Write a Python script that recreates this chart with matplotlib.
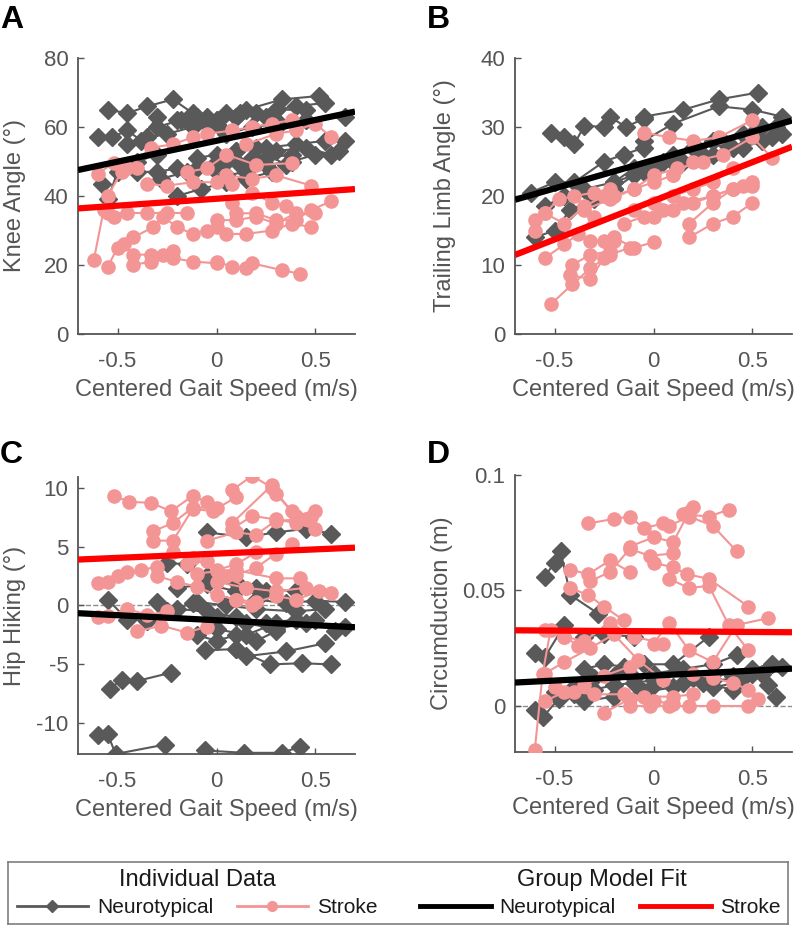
import numpy as np
import matplotlib.pyplot as plt
from matplotlib.lines import Line2D
from matplotlib.ticker import FormatStrFormatter

plt.rcParams['font.family'] = ['Liberation Sans', 'DejaVu Sans']
plt.rcParams['axes.unicode_minus'] = False

GRAY = '#595959'
PINK = '#F49595'
TXT = '#555555'

# ---- Panel A: knee angle ----
knee_nt_x = [[-0.55, -0.45, -0.35, -0.22, -0.12], [-0.6, -0.53, -0.45, -0.38, -0.3],
             [-0.05, 0.05, 0.15, 0.33, 0.52], [0.0, 0.1, 0.2, 0.3, 0.4, 0.55],
             [-0.2, -0.1, 0.0, 0.12, 0.25], [-0.3, -0.18, -0.05, 0.1, 0.3, 0.45],
             [0.05, 0.18, 0.32, 0.45, 0.65], [-0.58, -0.55, -0.5, -0.4, -0.3],
             [-0.4, -0.3, -0.2, -0.1, 0.0], [-0.28, -0.15, -0.02, 0.12, 0.25, 0.38],
             [-0.2, -0.08, 0.05, 0.15, 0.28], [0.05, 0.18, 0.3, 0.45, 0.58],
             [0.1, 0.25, 0.4, 0.55, 0.65], [-0.45, -0.35, -0.25, -0.12, 0.0],
             [-0.1, 0.0, 0.1, 0.2, 0.35], [0.05, 0.15, 0.25, 0.38, 0.5, 0.62]]
knee_nt_y = [[65, 64, 66, 68, 64], [57, 57, 59, 56, 63],
             [63, 64, 65, 68, 69], [62, 63, 64, 65, 66, 67],
             [62, 63, 61, 64, 63], [60, 62, 61, 63, 65, 65],
             [58, 60, 61, 62, 63], [43.5, 39, 47, 50, 52],
             [47, 47, 48, 48, 50], [45, 47, 48, 49, 51, 52],
             [40, 42, 44, 45, 47], [50, 51, 53, 54, 52],
             [53, 54, 55, 56, 56], [55, 57, 58, 60, 62],
             [51, 52, 53, 54, 49], [46, 47, 49, 50, 52, 53]]
knee_st_x = [[-0.42, -0.33, -0.22, -0.12, 0.0], [0.0, 0.08, 0.15, 0.18, 0.33, 0.42],
             [-0.55, -0.5, -0.47, -0.42, -0.33, -0.27, -0.22], [-0.62, -0.57, -0.52],
             [-0.42, -0.32, -0.27, -0.2, -0.12, -0.05, 0.0], [-0.55, -0.45, -0.35, -0.25, -0.15],
             [0.0, 0.1, 0.2, 0.3, 0.4, 0.5], [0.1, 0.2, 0.3, 0.4, 0.48, 0.58],
             [0.05, 0.15, 0.28, 0.38, 0.48], [-0.6, -0.52, -0.45, -0.33, -0.22, -0.12],
             [-0.05, 0.08, 0.18, 0.28, 0.38], [0.15, 0.3, 0.4, 0.5, 0.58],
             [-0.35, -0.25, -0.12, 0.0, 0.08], [-0.15, -0.05, 0.05, 0.2, 0.38],
             [0.05, 0.18, 0.3, 0.48], [0.08, 0.18, 0.28, 0.35], [-0.55, -0.48, -0.4]]
knee_st_y = [[20, 21, 22, 21, 20.5], [21, 19.5, 19, 20.5, 18.5, 17.5],
             [19.5, 25, 26, 23, 23, 23, 24], [21.5, 36, 34],
             [28, 31, 34, 31, 29, 30, 31], [35, 35, 35, 35, 35],
             [33, 33, 34, 32, 35, 35], [35, 35, 33, 33, 36, 38.5],
             [29, 29, 30, 32, 31], [46.5, 49.5, 48, 54, 55, 57],
             [58, 59, 60, 61, 62], [55, 58, 59, 61, 57],
             [43.5, 43, 44, 44, 43.5], [47, 48, 52, 49, 49.5],
             [46, 45, 46, 43], [38, 41, 38, 37], [40, 47, 48]]
knee_fit_nt = [56.0, 12.1]   # intercept, slope
knee_fit_st = [39.2, 4.0]

# ---- Panel B: trailing limb angle ----
tla_nt_x = [[-0.52, -0.45, -0.4, -0.35, -0.25, -0.22, -0.14, -0.05],
            [-0.05, 0.15, 0.33, 0.53], [-0.05, 0.1, 0.33, 0.5, 0.65],
            [-0.62, -0.5, -0.4, -0.25, -0.15, -0.05], [-0.55, -0.45, -0.35, -0.2, -0.1, 0.05],
            [-0.6, -0.5, -0.42, -0.3, -0.2], [0.0, 0.15, 0.3, 0.45, 0.6],
            [0.1, 0.22, 0.35, 0.5, 0.62], [-0.2, -0.05, 0.1, 0.25, 0.4, 0.55],
            [0.2, 0.3, 0.45, 0.55, 0.65], [-0.3, -0.2, -0.1, 0.0, 0.1]]
tla_nt_y = [[29.2, 28.5, 27.5, 30.2, 30, 31.5, 30, 31.2],
            [31.5, 32.5, 34, 35], [28, 30.5, 33, 32.5, 31.5],
            [20.5, 22, 22, 25, 26, 27], [18.5, 20, 21, 22, 24, 25],
            [14, 15, 18, 19.5, 21], [24, 25, 26, 27, 28.5],
            [26, 27, 28, 29, 30], [22, 23.5, 25, 26, 27, 28],
            [27, 28, 29, 30, 29], [20, 21, 23, 24, 25]]
tla_st_x = [[-0.52, -0.41, -0.32, -0.22, -0.12], [-0.41, -0.32, -0.22],
            [-0.42, -0.32, -0.25, -0.2], [-0.32, -0.25, -0.2, -0.1, 0.0],
            [-0.55, -0.45, -0.38, -0.3], [-0.6, -0.55, -0.48, -0.4, -0.3, -0.22],
            [-0.6, -0.55, -0.45, -0.35, -0.25], [0.18, 0.3, 0.4, 0.5],
            [0.18, 0.3, 0.4, 0.5], [0.0, 0.1, 0.2, 0.3, 0.4, 0.5],
            [-0.15, -0.05, 0.05, 0.15, 0.3, 0.45], [-0.05, 0.08, 0.2, 0.33, 0.5],
            [0.1, 0.2, 0.35, 0.5, 0.6], [-0.2, -0.1, 0.0, 0.12, 0.25],
            [-0.35, -0.22, -0.1, 0.0, 0.1], [-0.1, 0.0, 0.1, 0.2, 0.3, 0.4]]
tla_st_y = [[4.3, 7.2, 9.5, 11.5, 12.5], [10, 11.5, 12],
            [8.5, 8, 11, 13.5], [13.5, 13.5, 14, 12.5, 13.3],
            [11, 13, 14.5, 17], [16.5, 17.5, 19.5, 20, 20.5, 21],
            [15, 17.5, 16, 18.5, 20], [14, 16, 17, 19],
            [16, 19, 21, 22], [17, 18, 19, 20, 21, 21.5],
            [16, 17, 18, 19, 20, 21.5], [29.2, 28.5, 28, 28.5, 31],
            [23, 25, 26, 28.5, 25.5], [20, 21, 23, 24, 25],
            [18, 19.5, 21, 22, 23], [18, 19, 20, 21, 22, 24]]
tla_fit_nt = [25.2, 8.2]
tla_fit_st = [19.3, 11.2]

# ---- Panel C: hip hiking ----
hip_nt_x = [[-0.6, -0.55, -0.51, -0.26], [-0.06, 0.14, 0.33, 0.42],
            [-0.54, -0.48, -0.4, -0.23], [-0.06, 0.1, 0.27, 0.43, 0.58],
            [0.1, 0.15, 0.35, 0.55], [-0.55, -0.45, -0.35, -0.25, -0.12],
            [-0.3, -0.2, -0.05, 0.1, 0.25, 0.4], [0.0, 0.15, 0.3, 0.45, 0.65],
            [-0.1, 0.05, 0.2, 0.4, 0.55], [0.2, 0.35, 0.5, 0.65],
            [-0.05, 0.15, 0.3, 0.45, 0.58], [-0.25, -0.15, -0.05, 0.1, 0.25],
            [-0.2, -0.05, 0.1, 0.2, 0.4], [-0.1, 0.0, 0.1, 0.2, 0.3],
            [0.0, 0.15, 0.3, 0.5, 0.6]]
hip_nt_y = [[-11, -10.9, -12.6, -11.8], [-12.3, -12.5, -12.5, -12],
            [-7.1, -6.3, -6.4, -5.7], [-3.8, -3.7, -5, -4.9, -5],
            [-3.7, -4.3, -3.9, -3.2], [0.5, -1.2, -1.3, -0.5, 0.2],
            [0.3, -0.3, -0.5, -1, -1.5, -1.2], [-1, -1.5, -2, -1.5, -1.8],
            [0.3, 0.0, -0.3, -0.5, -0.3], [0.5, 0.2, 0.4, 0.3],
            [6.2, 5.8, 6.2, 6.5, 6.1], [3.6, 3.5, 2.5, 2, 1.2],
            [1.5, 1.8, 1.2, 1.5, 1.2], [-2.5, -3, -2.5, -3, -2.2],
            [-2, -2.5, -1.5, -1.2, -2.2]]
hip_st_x = [[-0.52, -0.44, -0.33, -0.23, -0.12, -0.05], [-0.32, -0.22, -0.12, 0.0],
            [-0.32, -0.22, -0.12, -0.02, 0.1], [0.08, 0.18, 0.28, 0.38, 0.48],
            [0.08, 0.28, 0.3, 0.4, 0.5], [0.08, 0.18, 0.3, 0.4, 0.5],
            [-0.05, 0.1, 0.2, 0.3, 0.45], [-0.6, -0.55, -0.5, -0.45, -0.38, -0.3],
            [-0.22, -0.12, 0.0, 0.1, 0.2], [0.1, 0.2, 0.3, 0.38],
            [-0.1, 0.0, 0.1, 0.3, 0.42], [0.0, 0.15, 0.3, 0.45, 0.58],
            [-0.3, -0.2, -0.1, 0.0, 0.1, 0.18], [-0.6, -0.55, -0.45, -0.35, -0.25],
            [-0.4, -0.28, -0.15, -0.05], [0.1, 0.2, 0.3, 0.4, 0.52],
            [-0.15, -0.05, 0.05, 0.15]]
hip_st_y = [[9.3, 8.8, 8.7, 8, 9.3, 8.8], [6.3, 7, 8.3, 8.3],
            [5.5, 5.5, 8.2, 8, 9.2], [9.8, 11, 10, 8, 7.5],
            [7, 10.2, 9.5, 7.6, 8], [6.5, 7.6, 7.3, 7.0, 6.5],
            [5.5, 6.2, 6.0, 7.2, 7.3], [1.9, 2, 2.5, 2.8, 3, 3.3],
            [4.5, 4, 3, 3.5, 4.5], [2.6, 3.2, 4.4, 5.2],
            [2.7, 2.9, 3, 2.3, 2.3], [2, 1.5, 1.2, 1.5, 1.1],
            [2.5, 2, 1.6, 0.9, 0.5, 0], [-1, -0.9, -0.3, -0.8, -0.5],
            [-2.2, -1.7, -2.3, -1.8], [0.5, 0.3, 0.8, 0.5, 1.2],
            [3.5, 3.8, 2.5, 1.5]]
hip_fit_nt = [-1.25, -0.85]
hip_fit_st = [4.4, 0.72]

# ---- Panel D: circumduction ----
circ_nt_x = [[-0.55, -0.5, -0.47, -0.42, -0.28], [-0.6, -0.55, -0.45, -0.35, -0.25, -0.1],
             [-0.6, -0.56, -0.48, -0.4], [-0.35, -0.25, -0.15, -0.05, 0.1, 0.28],
             [-0.3, -0.2, -0.1, 0.0, 0.15, 0.3, 0.42], [0.2, 0.3, 0.4, 0.5, 0.6, 0.65],
             [0.3, 0.42, 0.5, 0.58, 0.62], [-0.5, -0.4, -0.3, -0.2, -0.1, 0.0],
             [-0.35, -0.2, -0.05, 0.1, 0.25, 0.4], [0.0, 0.15, 0.3, 0.45, 0.55]]
circ_nt_y = [[0.056, 0.062, 0.067, 0.048, 0.040], [0.023, 0.021, 0.035, 0.030, 0.031, 0.030],
             [-0.002, -0.005, 0.003, 0.005], [0.016, 0.018, 0.017, 0.018, 0.018, 0.030],
             [0.012, 0.013, 0.012, 0.014, 0.016, 0.018, 0.022], [0.012, 0.014, 0.013, 0.016, 0.018, 0.017],
             [0.008, 0.010, 0.014, 0.009, 0.004], [0.006, 0.008, 0.007, 0.009, 0.010, 0.011],
             [0.002, 0.004, 0.006, 0.008, 0.010, 0.007], [0.009, 0.010, 0.011, 0.012, 0.014]]
circ_st_x = [[-0.6, -0.56, -0.52, -0.45, -0.38], [-0.33, -0.2, -0.12, -0.05, 0.05],
             [-0.12, 0.0, 0.1, 0.18, 0.2], [0.15, 0.28, 0.38],
             [0.08, 0.18, 0.3, 0.42], [-0.42, -0.33, -0.22, -0.12],
             [-0.32, -0.22, -0.12, -0.02, 0.1], [0.0, 0.1, 0.17, 0.28, 0.48],
             [-0.42, -0.33, -0.25, -0.15], [0.08, 0.18, 0.28, 0.38, 0.48],
             [-0.55, -0.45, -0.35, -0.22, -0.1, 0.05], [0.0, 0.08, 0.18, 0.3, 0.42, 0.58],
             [-0.55, -0.45, -0.32, -0.2, -0.08, 0.05], [-0.5, -0.4, -0.3, -0.15, -0.05, 0.1, 0.2],
             [-0.12, -0.02, 0.08, 0.18, 0.3, 0.48], [-0.25, -0.12, 0.0, 0.1],
             [0.2, 0.3, 0.4, 0.48, 0.53], [-0.55, -0.45, -0.35, -0.25, -0.12]]
circ_st_y = [[-0.019, 0.014, 0.033, 0.030, 0.026], [0.079, 0.081, 0.082, 0.077, 0.079],
             [0.069, 0.073, 0.071, 0.084, 0.086], [0.083, 0.082, 0.085],
             [0.078, 0.082, 0.078, 0.067], [0.059, 0.057, 0.063, 0.058],
             [0.054, 0.058, 0.068, 0.065, 0.066], [0.062, 0.060, 0.057, 0.055, 0.043],
             [0.051, 0.048, 0.043, 0.037], [0.055, 0.051, 0.052, 0.035, 0.024],
             [0.033, 0.030, 0.028, 0.036, 0.030, 0.027], [0.027, 0.036, 0.024, 0.019, 0.035, 0.038],
             [0.014, 0.019, 0.025, 0.031, 0.020, 0.011], [0.008, 0.006, 0.005, 0.005, 0.004, 0.004, 0.005],
             [0.0, 0.0, 0.0, 0.0, 0.0, 0.0], [-0.003, 0.003, 0.002, 0.001],
             [0.014, 0.012, 0.010, 0.007, 0.003], [0.002, 0.006, 0.009, 0.013, 0.017]]
circ_fit_nt = [0.0131, 0.0043]
circ_fit_st = [0.0323, -0.0006]


def panel(ax, nt_x, nt_y, st_x, st_y, fit_nt, fit_st, ylim, yticks, ylabel, ylab_x, zero_line=False):
    if zero_line:
        ax.axhline(0, ls='--', color='#8c8c8c', lw=1, zorder=1)
    for xs, ys in zip(nt_x, nt_y):
        ax.plot(xs, ys, '-D', color=GRAY, ms=9, lw=1.5, zorder=2)
    for xs, ys in zip(st_x, st_y):
        ax.plot(xs, ys, '-o', color=PINK, ms=9.5, lw=1.5, zorder=3)
    xf = np.array([-0.7, 0.7])
    ax.plot(xf, fit_nt[0] + fit_nt[1] * xf, color='black', lw=4.5, zorder=4, solid_capstyle='butt')
    ax.plot(xf, fit_st[0] + fit_st[1] * xf, color='red', lw=4.5, zorder=4, solid_capstyle='butt')
    ax.set_xlim(-0.7, 0.7)
    ax.set_ylim(ylim)
    ax.set_xticks([-0.5, 0, 0.5])
    ax.set_yticks(yticks)
    ax.xaxis.set_major_formatter(FormatStrFormatter('%g'))
    ax.yaxis.set_major_formatter(FormatStrFormatter('%g'))
    for s in ['top', 'right']:
        ax.spines[s].set_visible(False)
    for s in ['left', 'bottom']:
        ax.spines[s].set_color(TXT)
        ax.spines[s].set_linewidth(1.3)
    ax.tick_params(direction='in', length=4, width=1, colors=TXT, labelsize=16)
    ax.tick_params(axis='x', pad=12)
    ax.tick_params(axis='y', pad=7)
    ax.set_xlabel('Centered Gait Speed (m/s)', fontsize=17, color=TXT)
    ax.set_ylabel(ylabel, fontsize=17, color=TXT)
    ax.xaxis.set_label_coords(0.5, -0.163)
    ax.yaxis.set_label_coords(ylab_x, 0.5)


fig = plt.figure(figsize=(7.97, 9.26), dpi=100)
W, H = 797, 926
ax_a = fig.add_axes([78 / W, 1 - 334 / H, 277 / W, 276 / H])
ax_b = fig.add_axes([515 / W, 1 - 334 / H, 277 / W, 276 / H])
ax_c = fig.add_axes([78 / W, 1 - 754 / H, 277 / W, 277 / H])
ax_d = fig.add_axes([515 / W, 1 - 752 / H, 277 / W, 277 / H])

panel(ax_a, knee_nt_x, knee_nt_y, knee_st_x, knee_st_y, knee_fit_nt, knee_fit_st,
      (0, 80), [0, 20, 40, 60, 80], 'Knee Angle (°)', -0.188)
panel(ax_b, tla_nt_x, tla_nt_y, tla_st_x, tla_st_y, tla_fit_nt, tla_fit_st,
      (0, 40), [0, 10, 20, 30, 40], 'Trailing Limb Angle (°)', -0.213)
panel(ax_c, hip_nt_x, hip_nt_y, hip_st_x, hip_st_y, hip_fit_nt, hip_fit_st,
      (-12.6, 10.9), [-10, -5, 0, 5, 10], 'Hip Hiking (°)', -0.188, zero_line=True)
panel(ax_d, circ_nt_x, circ_nt_y, circ_st_x, circ_st_y, circ_fit_nt, circ_fit_st,
      (-0.02, 0.1), [0, 0.05, 0.1], 'Circumduction (m)', -0.224, zero_line=True)

for letter, x, y in [('A', 0, 5), ('B', 427, 5), ('C', 0, 440), ('D', 427, 440)]:
    fig.text(x / W, 1 - y / H, letter, fontsize=23, fontweight='bold', ha='left', va='top')

# legend box
lax = fig.add_axes([8 / W, 1 - 924 / H, 780 / W, 62 / H])
lax.set_xticks([])
lax.set_yticks([])
for s in lax.spines.values():
    s.set_color('#7f7f7f')
    s.set_linewidth(1.2)

fig.text(197 / W, 1 - 880 / H, 'Individual Data', fontsize=17, color='#1a1a1a', ha='center', va='center')
fig.text(602 / W, 1 - 880 / H, 'Group Model Fit', fontsize=17, color='#1a1a1a', ha='center', va='center')

h_nt = Line2D([], [], color=GRAY, marker='D', ms=6, lw=2)
h_st = Line2D([], [], color=PINK, marker='o', ms=7, lw=2)
h_fnt = Line2D([], [], color='black', lw=3.5)
h_fst = Line2D([], [], color='red', lw=3.5)

common = dict(ncol=2, loc='center left', frameon=False, fontsize=15,
              handlelength=3.4, handletextpad=0.43, columnspacing=1.15, borderpad=0,
              borderaxespad=0, labelcolor='#1a1a1a')
leg1 = lax.legend([h_nt, h_st], ['Neurotypical', 'Stroke'],
                  bbox_to_anchor=(0.0115, 0.26), **common)
lax.add_artist(leg1)
leg2 = lax.legend([h_fnt, h_fst], ['Neurotypical', 'Stroke'],
                  bbox_to_anchor=(0.528, 0.26), **common)

fig.savefig('out.png', dpi=100)
